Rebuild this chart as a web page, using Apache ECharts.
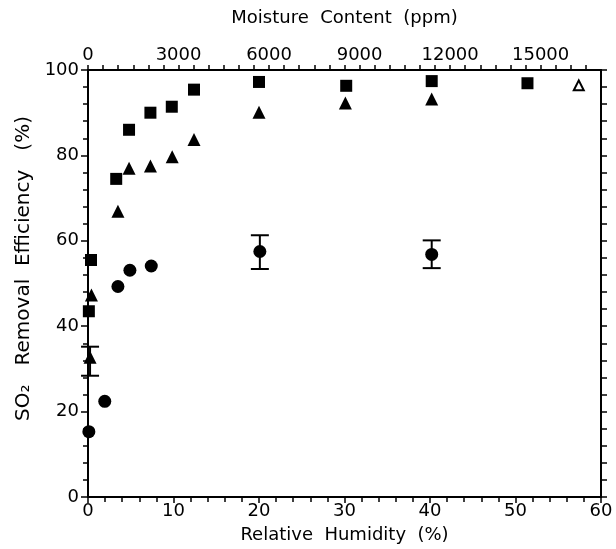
<!DOCTYPE html>
<html>
<head>
<meta charset="utf-8">
<script src="https://cdn.jsdelivr.net/npm/echarts@6/dist/echarts.min.js"></script>
<style>html,body{margin:0;padding:0;background:#fff;}#c{width:616px;height:549px;}</style>
</head>
<body>
<div id="c"></div>
<script>
// Relative humidity (%) vs SO2 removal efficiency (%)
var squares = [[0.1,43.5],[0.35,55.5],[3.3,74.5],[4.8,86],[7.3,90],[9.8,91.4],[12.4,95.4],[20,97.2],[30.2,96.3],[40.2,97.4],[51.4,96.9]];
var triangles = [[0.24,32.7],[0.4,47.3],[3.5,66.9],[4.8,77],[7.3,77.5],[9.85,79.7],[12.4,83.7],[20,90.1],[30.1,92.3],[40.2,93.2]];
var openTriangles = [[57.4,96.4]];
var circles = [[0.1,15.3],[1.96,22.4],[3.5,49.3],[4.9,53.1],[7.4,54.1],[20.1,57.5],[40.2,56.8]];
// [x, low, high]
var errorBars = [[0.24,28.4,35.2],[20.1,53.4,61.3],[40.2,53.6,60.1]];
var rhTicks = [0,10,20,30,40,50,60];
var ppmTicks = [0,3000,6000,9000,12000,15000];
var effTicks = [0,20,40,60,80,100];

var FONT = 'DejaVu Sans';
var lab = {color:'#000', fontFamily:FONT, fontSize:18};
var nameStyle = {color:'#000', fontFamily:FONT, fontSize:18};
var chart = echarts.init(document.getElementById('c'), null, {renderer:'canvas'});
chart.setOption({
  backgroundColor:'#fff',
  animation:false,
  grid:{left:88, right:15, top:70, bottom:49},
  xAxis:[{
    type:'value', position:'bottom', min:0, max:60, interval:10,
    name:'Relative  Humidity  (%)', nameLocation:'middle', nameGap:29,
    nameTextStyle:nameStyle,
    axisLine:{onZero:false, lineStyle:{color:'#000', width:2}},
    axisTick:{inside:false, length:6, lineStyle:{color:'#000', width:1.5}},
    minorTick:{show:true, splitNumber:5, length:5, lineStyle:{color:'#000', width:1.5}},
    axisLabel:Object.assign({margin:5, formatter:function(v){return rhTicks.indexOf(v)>=0?String(v):'';}}, lab),
    splitLine:{show:false}
  },{
    type:'value', position:'top', min:0, max:17000, interval:500,
    name:'Moisture  Content  (ppm)', nameLocation:'middle', nameGap:43,
    nameTextStyle:nameStyle,
    axisLine:{onZero:false, lineStyle:{color:'#000', width:2}},
    axisTick:{inside:false, length:5, lineStyle:{color:'#000', width:1.5}},
    axisLabel:Object.assign({margin:6, showMaxLabel:false, interval:0, hideOverlap:false, formatter:function(v){return ppmTicks.indexOf(v)>=0?String(v):'';}}, lab),
    splitLine:{show:false}
  }],
  yAxis:[{
    type:'value', position:'left', min:0, max:100, interval:20,
    name:'SO\u2082   Removal  Efficiency   (%)', nameLocation:'middle', nameGap:31,
    nameTextStyle:{color:'#000', fontFamily:FONT, fontSize:20, padding:[0,0,0,30]},
    axisLine:{onZero:false, lineStyle:{color:'#000', width:2}},
    axisTick:{inside:false, length:7, lineStyle:{color:'#000', width:1.5}},
    minorTick:{show:true, splitNumber:5, length:5, lineStyle:{color:'#000', width:1.5}},
    axisLabel:Object.assign({margin:9, formatter:function(v){return effTicks.indexOf(v)>=0?String(v):'';}}, lab),
    splitLine:{show:false}
  },{
    type:'value', position:'right', min:0, max:100, interval:4,
    axisLine:{onZero:false, lineStyle:{color:'#000', width:2}},
    axisTick:{inside:false, length:6, lineStyle:{color:'#000', width:1.5}},
    axisLabel:{show:false},
    splitLine:{show:false}
  }],
  series:[
    {type:'custom', xAxisIndex:0, yAxisIndex:0, data:errorBars, z:1,
     renderItem:function(params, api){
       var lo = api.coord([api.value(0), api.value(1)]);
       var hi = api.coord([api.value(0), api.value(2)]);
       var hw = 9;
       var st = {stroke:'#000', lineWidth:2};
       return {type:'group', children:[
         {type:'line', shape:{x1:lo[0], y1:lo[1], x2:hi[0], y2:hi[1]}, style:st},
         {type:'line', shape:{x1:lo[0]-hw, y1:lo[1], x2:lo[0]+hw, y2:lo[1]}, style:st},
         {type:'line', shape:{x1:hi[0]-hw, y1:hi[1], x2:hi[0]+hw, y2:hi[1]}, style:st}
       ]};
     }},
    {type:'scatter', data:squares, symbol:'rect', symbolSize:12, itemStyle:{color:'#000', opacity:1}, z:3},
    {type:'scatter', data:triangles, symbol:'triangle', symbolSize:13, itemStyle:{color:'#000', opacity:1}, z:3},
    {type:'scatter', data:openTriangles, symbol:'triangle', symbolSize:10, itemStyle:{color:'#fff', borderColor:'#000', borderWidth:2, opacity:1}, z:3},
    {type:'scatter', data:circles, symbol:'circle', symbolSize:13, itemStyle:{color:'#000', opacity:1}, z:3}
  ]
});
</script>
</body>
</html>
